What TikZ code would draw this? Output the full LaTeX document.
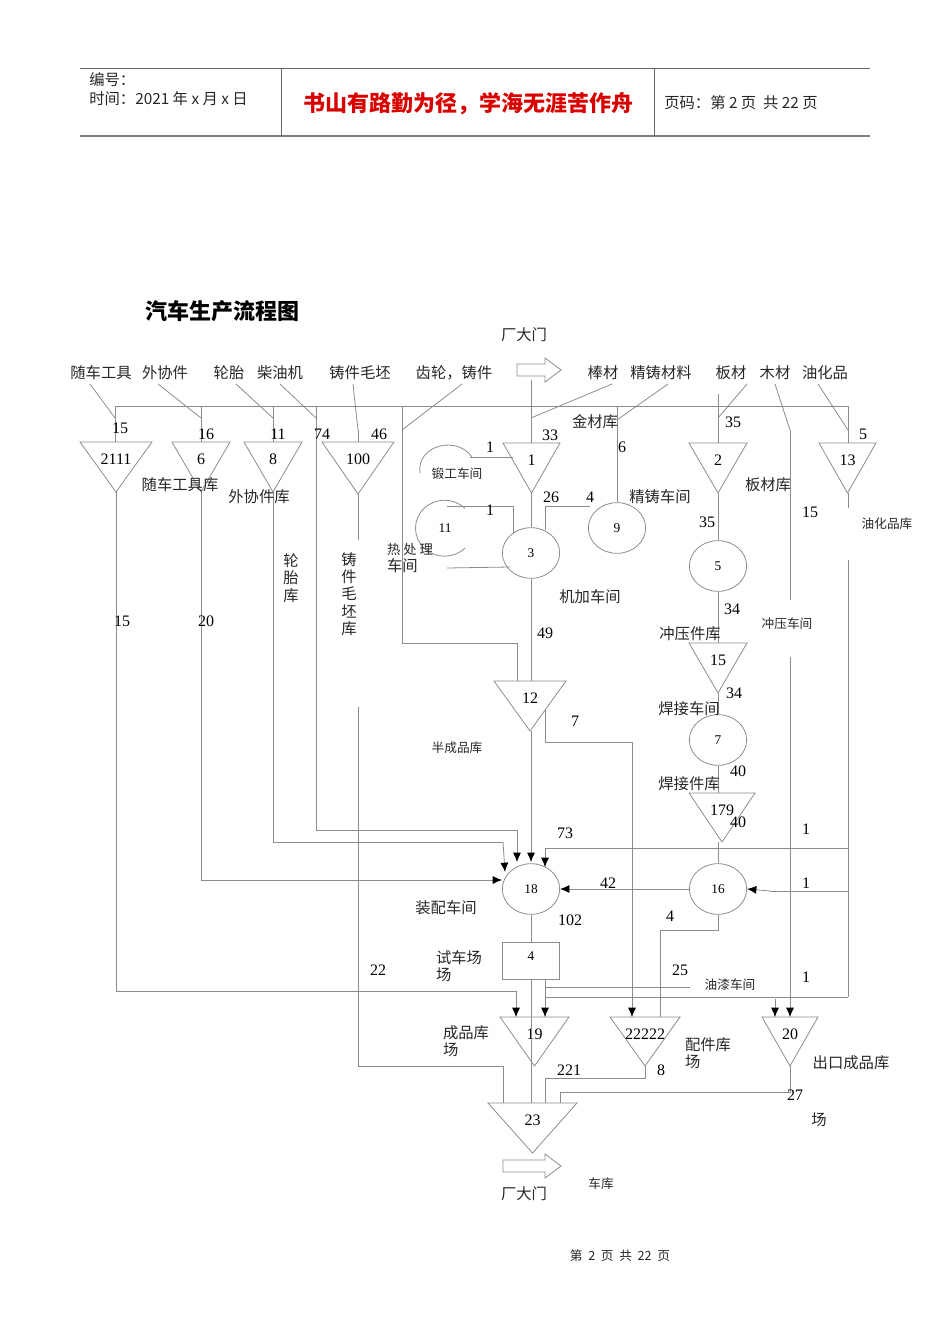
\documentclass[tikz,border=0pt]{standalone}
\usepackage{fontspec}
\setmainfont{Liberation Serif}
\newfontfamily\cjk{Noto Sans CJK SC}
\usetikzlibrary{arrows.meta,shapes.geometric}
\tikzset{
 ln/.style={draw=black!45,line width=0.6pt},
 arr/.style={ln,-{Latex[length=7pt,width=6pt,black]}},
 lab/.style={font=\cjk\fontsize{11.5}{13}\selectfont,inner sep=0pt,text=black!85},
 slab/.style={font=\cjk\fontsize{9.5}{11}\selectfont,inner sep=0pt,text=black!85},
 num/.style={font=\fontsize{12}{13}\selectfont,inner sep=0pt},
 snum/.style={font=\fontsize{10}{11}\selectfont,inner sep=0pt},
 circ/.style={ln,draw,ellipse,minimum width=43pt,minimum height=38pt,inner sep=0pt,font=\fontsize{10}{11}\selectfont},
}
\newcommand\mytri[6]{\draw[ln] (#2,#4) -- (#3,#4) -- ({(#2+#3)/2},#5) -- cycle;
 \node[num] (#1) at ({(#2+#3)/2},#4+17) {#6};}
\begin{document}
\begin{tikzpicture}[x=0.75pt,y=-0.75pt]
\useasboundingbox (0,0) rectangle (950,1344);
% header
\draw[black!60,line width=0.6pt] (80,68) -- (870,68);
\draw[black!50,line width=1.4pt] (80,136) -- (870,136);
\draw[black!60] (281,68) -- (281,136) (654,68) -- (654,136);
\node[lab,anchor=west] (h1) at (89,80) {编号：};
\node[lab,anchor=west] (h2) at (89,99) {时间：2021 年 x 月 x 日};
\node[font=\cjk\fontsize{16.5}{18}\selectfont\bfseries,text=red!85!black] (h3) at (468,104) {书山有路勤为径，学海无涯苦作舟};
\node[lab,anchor=west] (h4) at (664,103) {页码：第 2 页\ \ 共 22 页};
\node[font=\cjk\fontsize{16.5}{18}\selectfont\bfseries] (title) at (222,311) {汽车生产流程图};
\node[lab] (gate1) at (524,335) {厂大门};
% gate arrows
\draw[ln] (517,364) -- (545,364) -- (545,358) -- (561,370) -- (545,382) -- (545,376) -- (517,376) -- cycle;
\draw[ln] (503,1160) -- (545,1160) -- (545,1154) -- (561,1166) -- (545,1178) -- (545,1172) -- (503,1172) -- cycle;
\node[lab] (gate2) at (524,1194) {厂大门};
\node[slab] (garage) at (601,1184) {车库};
% top labels
\node[lab] (l1) at (101,373) {随车工具};
\node[lab] (l2) at (165,373) {外协件};
\node[lab] (l3) at (229,373) {轮胎};
\node[lab] (l4) at (280,373) {柴油机};
\node[lab] (l5) at (360,373) {铸件毛坯};
\node[lab] (l6) at (454,373) {齿轮，铸件};
\node[lab] (l7) at (603,373) {棒材};
\node[lab] (l8) at (661,373) {精铸材料};
\node[lab] (l9) at (731,373) {板材};
\node[lab] (l10) at (775,373) {木材};
\node[lab] (l11) at (825,373) {油化品};
% diagonals
\draw[ln] (90,384) -- (115,418);
\draw[ln] (158,384) -- (201,418);
\draw[ln] (236,384) -- (273,418);
\draw[ln] (280,384) -- (316,418);
\draw[ln] (353,384) -- (358,430);
\draw[ln] (462,384) -- (402,430);
\draw[ln] (612,384) -- (531,418);
\draw[ln] (668,384) -- (617,420);
\draw[ln] (747,384) -- (718,418);
\draw[ln] (775,384) -- (790,430);
\draw[ln] (818,384) -- (848,430);
% bus
\draw[ln] (115,406) -- (848,406);
% triangles
\mytri{t2111}{80}{152}{442}{492}{2111}
\mytri{t6}{172}{230}{442}{492}{6}
\mytri{t8}{244}{302}{442}{492}{8}
\mytri{t100}{322}{394}{442}{494}{100}
\mytri{t1}{503}{560}{443}{493}{1}
\mytri{t2}{689}{747}{443}{493}{2}
\mytri{t13}{819}{876}{443}{493}{13}
\mytri{t12}{494}{566}{681}{731}{12}
\mytri{t15}{689}{747}{643}{693}{15}
\mytri{t179}{689}{755}{793}{842}{179}
\mytri{t19}{500}{569}{1017}{1066}{19}
\mytri{t22}{610}{680}{1017}{1066}{22222}
\mytri{t20}{762}{818}{1017}{1066}{20}
\mytri{t23}{488}{577}{1103}{1153}{23}
% circles
\node[circ] (c3) at (531,553) {3};
\node[circ] (c9) at (617,528) {9};
\node[circ] (c5) at (718,566) {5};
\node[circ] (c7) at (718,740) {7};
\node[circ] (c18) at (531,889) {18};
\node[circ] (c16) at (718,889) {16};
\node[ln,draw,minimum width=43pt,minimum height=28pt,font=\fontsize{10}{11}\selectfont,anchor=north,inner sep=0pt] (b4) at (531,942) {\raisebox{8pt}{4}};
% open arcs
\draw[ln] (472,457) arc[start angle=-30,end angle=-190,x radius=28,y radius=24];
\node[snum] (c11) at (445,528) {11};
\draw[ln] (465,548) arc[start angle=45,end angle=315,x radius=29,y radius=28];
% vertical flows
\draw[ln] (115,406) -- (115,442);
\draw[ln] (201,406) -- (201,442);
\draw[ln] (273,406) -- (273,442);
\draw[ln] (358,430) -- (358,442);
\draw[ln] (531,380) -- (531,443);
\draw[ln] (617,406) -- (c9.north);
\draw[ln] (718,394) -- (718,443);
\draw[ln] (848,406) -- (848,443);
\draw[ln] (316,406) -- (316,830) -- (517,830);
\draw[arr] (517,830) -- (517,862);
\draw[ln] (273,492) -- (273,842) -- (503,842);
\draw[arr] (503,842) -- (505,872);
\draw[ln] (201,492) -- (201,880) -- (480,880);
\draw[arr] (480,880) -- (502,880);
\draw[arr] (531,731) -- (531,862);
\draw[ln] (848,848) -- (545,848);
\draw[arr] (545,848) -- (545,867);
\draw[ln] (116,492) -- (116,991) -- (516,991);
\draw[arr] (516,991) -- (516,1017);
\draw[ln] (358,494) -- (358,540);
\draw[ln] (358,707) -- (358,1066) -- (503,1066) -- (503,1103);
\draw[ln] (402,406) -- (402,643) -- (517,643) -- (517,681);
% center column
\draw[ln] (531,493) -- (c3.north);
\draw[ln] (c3.south) -- (531,681);
\draw[ln] (470,457) -- (513,457);
\draw[ln] (447,506) -- (513,506) -- (513,533);
\draw[ln] (447,568) -- (510,567);
\draw[ln] (545,530) -- (545,506) -- (590,506);
\draw[ln] (545,710) -- (545,742) -- (632,742);
\draw[arr] (632,742) -- (632,1017);
\draw[ln] (c18.south) -- (b4.north);
\draw[ln] (531,980) -- (531,1103);
\draw[ln] (545,980) -- (545,987);
\draw[arr] (545,987) -- (545,1017);
\draw[ln] (545,987) -- (690,987);
\draw[ln] (545,997) -- (848,997);
% right column
\draw[ln] (718,493) -- (c5.north);
\draw[ln] (c5.south) -- (718,643);
\draw[ln] (718,693) -- (c7.north);
\draw[ln] (c7.south) -- (718,793);
\draw[ln] (718,842) -- (c16.north);
\draw[arr] (c16.west) -- (c18.east);
\draw[ln] (848,891) -- (770,891);
\draw[arr] (770,891) -- (c16.east);
\draw[ln] (c16.south) -- (718,930) -- (660,930) -- (660,1017);
\draw[ln] (848,493) -- (848,508);
\draw[ln] (848,560) -- (848,997);
\draw[ln] (790,430) -- (790,600);
\draw[arr] (790,657) -- (790,1017);
\draw[arr] (775,999) -- (775,1017);
% bottom
\draw[ln] (645,1066) -- (645,1078) -- (545,1078) -- (545,1103);
\draw[ln] (790,1066) -- (790,1092) -- (560,1092) -- (560,1103);
% numbers
\node[num] at (120,428) {15};
\node[num] at (206,434) {16};
\node[num] at (278,434) {11};
\node[num] at (322,434) {74};
\node[num] at (379,434) {46};
\node[num] at (550,435) {33};
\node[num] at (490,447) {1};
\node[num] at (490,510) {1};
\node[num] at (622,447) {6};
\node[num] at (551,497) {26};
\node[num] at (590,497) {4};
\node[num] at (733,422) {35};
\node[num] at (863,434) {5};
\node[num] at (707,522) {35};
\node[num] at (810,512) {15};
\node[num] at (732,609) {34};
\node[num] at (734,693) {34};
\node[num] at (738,771) {40};
\node[num] at (738,822) {40};
\node[num] at (545,633) {49};
\node[num] at (575,721) {7};
\node[num] at (565,833) {73};
\node[num] at (806,829) {1};
\node[num] at (806,883) {1};
\node[num] at (608,883) {42};
\node[num] at (570,920) {102};
\node[num] at (670,916) {4};
\node[num] at (680,970) {25};
\node[num] at (806,977) {1};
\node[num] at (122,621) {15};
\node[num] at (206,621) {20};
\node[num] at (378,970) {22};
\node[num] at (569,1070) {221};
\node[num] at (661,1070) {8};
\node[num] at (795,1095) {27};
% labels
\node[lab] at (595,422) {金材库};
\node[slab] at (457,474) {锻工车间};
\node[lab] at (180,485) {随车工具库};
\node[lab] at (259,497) {外协件库};
\node[lab] at (660,497) {精铸车间};
\node[lab] at (768,485) {板材库};
\node[slab] at (887,524) {油化品库};
\node[lab,align=left] at (410,558) {\fontsize{10}{11}\selectfont 热 处 理\\车间};
\node[lab] at (590,597) {机加车间};
\node[lab] at (690,634) {冲压件库};
\node[slab] at (787,624) {冲压车间};
\node[lab,align=center] at (291,578) {轮\\胎\\库};
\node[lab,align=center] at (349,594) {铸\\件\\毛\\坯\\库};
\node[slab] at (457,748) {半成品库};
\node[lab] at (689,709) {焊接车间};
\node[lab] at (689,784) {焊接件库};
\node[lab] at (446,908) {装配车间};
\node[lab,align=left] at (459,966) {试车场\\场};
\node[slab] at (730,985) {油漆车间};
\node[lab,align=left] at (466,1041) {成品库\\场};
\node[lab,align=left] at (708,1053) {配件库\\场};
\node[lab] at (851,1063) {出口成品库};
\node[lab] at (819,1120) {场};
\node[slab] at (620,1256) {第\ \ 2\ \ 页\ \ 共\ \ 22\ \ 页};
\end{tikzpicture}
\end{document}
